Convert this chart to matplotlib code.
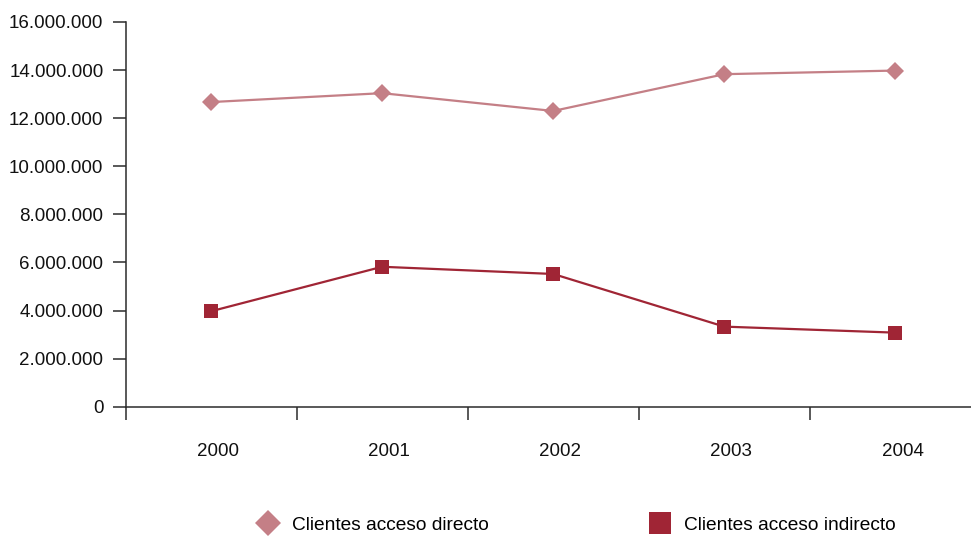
import matplotlib
matplotlib.use("Agg")
import matplotlib.pyplot as plt
from matplotlib.lines import Line2D
from matplotlib.ticker import FuncFormatter, FixedLocator
import matplotlib.transforms as mtransforms

years = ["2000", "2001", "2002", "2003", "2004"]
directo = [12670000, 13040000, 12300000, 13830000, 13980000]
indirecto = [3970000, 5820000, 5520000, 3330000, 3080000]
y_ticks = [0, 2000000, 4000000, 6000000, 8000000, 10000000, 12000000, 14000000, 16000000]

label_directo = "Clientes acceso directo"
label_indirecto = "Clientes acceso indirecto"

c_directo = "#C47F86"
c_indirecto = "#A02535"
axis_color = "#2b2b2b"

plt.rcParams["font.family"] = ["Liberation Sans", "DejaVu Sans"]

fig = plt.figure(figsize=(9.71, 5.37), dpi=100)
W, H = 971, 537
# the category axis runs a little past the right edge of the figure
ax = fig.add_axes([125.5 / W, 1 - 406.7 / H, (981 - 125.5) / W, (406.7 - 22) / H])

x = list(range(len(years)))
ax.plot(x, directo, color=c_directo, lw=1.6, marker="D", ms=9.6,
        markeredgewidth=0, zorder=3)
ax.plot(x, indirecto, color=c_indirecto, lw=1.6, marker="s", ms=10,
        markeredgewidth=0, zorder=3)

ax.set_xlim(-0.5, len(years) - 0.5)
ax.set_ylim(0, 16000000)

for s in ("top", "right"):
    ax.spines[s].set_visible(False)
for s in ("left", "bottom"):
    ax.spines[s].set_color(axis_color)
    ax.spines[s].set_linewidth(1.1)

ax.yaxis.set_major_locator(FixedLocator(y_ticks))
ax.yaxis.set_major_formatter(FuncFormatter(lambda v, p: f"{int(v):,}".replace(",", ".")))
ax.tick_params(axis="y", direction="out", length=9.4, width=1.1, color=axis_color,
               labelsize=13.5, pad=6.5, labelcolor="#111111")

ax.set_xticks(x)
ax.set_xticklabels(years)
ax.set_xticks([i - 0.5 for i in range(len(years))], minor=True)
ax.tick_params(axis="x", which="major", length=0, pad=26, labelsize=13.5,
               labelcolor="#111111")
ax.tick_params(axis="x", which="minor", direction="out", length=9.4, width=1.1,
               color=axis_color)
shift = mtransforms.ScaledTranslation(7 / 100, 0, fig.dpi_scale_trans)
for lbl in ax.get_xticklabels():
    lbl.set_transform(lbl.get_transform() + shift)

h1 = Line2D([], [], color=c_directo, marker="D", ms=13.5, lw=0, markeredgewidth=0)
h2 = Line2D([], [], color=c_indirecto, marker="s", ms=16, lw=0, markeredgewidth=0)
common = dict(frameon=False, loc="center left", borderpad=0, borderaxespad=0,
              handlelength=1.0, handletextpad=0.75, fontsize=13.8)
fig.legend([h1], [label_directo], bbox_to_anchor=(258 / W, 1 - 525 / H), **common)
fig.legend([h2], [label_indirecto], bbox_to_anchor=(650 / W, 1 - 525 / H), **common)

fig.savefig("out.png", dpi=100)
